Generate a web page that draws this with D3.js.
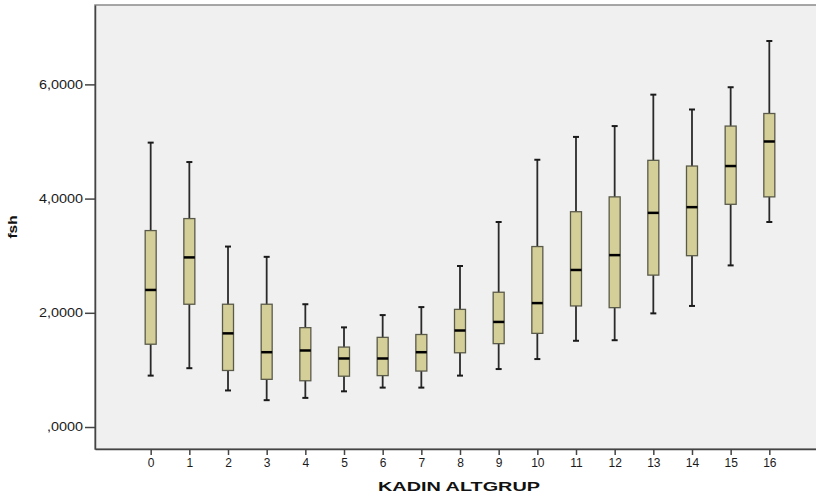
<!DOCTYPE html>
<html>
<head>
<meta charset="utf-8">
<script src="https://cdn.jsdelivr.net/npm/d3@7"></script>
<style>
  body { margin: 0; background: #fff; }
  text { font-family: "Liberation Sans", Arial, sans-serif; }
</style>
</head>
<body>
<div id="wrapper"></div>
<script>
// categories (KADIN ALTGRUP) and box stats of fsh
const categories = ["0","1","2","3","4","5","6","7","8","9","10","11","12","13","14","15","16"]
const whiskerLow  = [0.90, 1.03, 0.64, 0.47, 0.51, 0.625, 0.69, 0.69, 0.90, 1.015, 1.19, 1.51, 1.52, 1.99, 2.12, 2.83, 3.59]
const q1Values    = [1.45, 2.15, 0.99, 0.835, 0.81, 0.89, 0.90, 0.98, 1.30, 1.46, 1.64, 2.12, 2.09, 2.66, 3.00, 3.90, 4.03]
const medianVals  = [2.40, 2.97, 1.64, 1.31, 1.34, 1.20, 1.20, 1.31, 1.69, 1.84, 2.17, 2.75, 3.01, 3.75, 3.85, 4.57, 5.00]
const q3Values    = [3.44, 3.65, 2.15, 2.15, 1.74, 1.40, 1.57, 1.62, 2.06, 2.36, 3.16, 3.77, 4.03, 4.67, 4.57, 5.27, 5.49]
const whiskerHigh = [4.98, 4.64, 3.16, 2.98, 2.15, 1.745, 1.96, 2.10, 2.82, 3.59, 4.68, 5.08, 5.27, 5.82, 5.56, 5.95, 6.76]

const yTicks = [0, 2, 4, 6]
const yTickLabels = [",0000", "2,0000", "4,0000", "6,0000"]

const xAxisLabelText = "KADIN ALTGRUP"
const yAxisLabelText = "fsh"

const dataset = categories.map((c, i) => ({
    cat: c,
    lo: whiskerLow[i],
    q1: q1Values[i],
    med: medianVals[i],
    q3: q3Values[i],
    hi: whiskerHigh[i],
}))

/* chart dimensions */
let dimensions = {
    width: 816,
    height: 497,
    margin: { top: 5, right: -9, bottom: 48, left: 95 },
}
dimensions.boundedWidth = dimensions.width - dimensions.margin.left - dimensions.margin.right
dimensions.boundedHeight = dimensions.height - dimensions.margin.top - dimensions.margin.bottom

const wrapper = d3.select("#wrapper")
    .append("svg")
    .attr("width", dimensions.width)
    .attr("height", dimensions.height)

const bounds = wrapper.append("g")
    .attr("transform", `translate(${dimensions.margin.left},${dimensions.margin.top})`)

/* scales */
const xScale = d3.scalePoint()
    .domain(categories)
    .range([0, dimensions.boundedWidth])
    .padding(1.44)

const yScale = d3.scaleLinear()
    .domain([-0.385, 7.39])
    .range([dimensions.boundedHeight, 0])

/* plot background */
bounds.append("rect")
    .attr("width", dimensions.boundedWidth)
    .attr("height", dimensions.boundedHeight)
    .attr("fill", "#f0f0f0")
    .attr("stroke", "#8a8a8a")
    .attr("stroke-width", 1.5)

/* boxes */
const boxWidth = 11
const capWidth = 6
const groups = bounds.selectAll(".box")
    .data(dataset)
    .enter().append("g")
    .attr("class", "box")
    .attr("transform", d => `translate(${xScale(d.cat)},0)`)

groups.append("line")
    .attr("x1", 0).attr("x2", 0)
    .attr("y1", d => yScale(d.lo))
    .attr("y2", d => yScale(d.hi))
    .attr("stroke", "#2a2a2a")
    .attr("stroke-width", 1.8)

groups.selectAll(".cap")
    .data(d => [d.lo, d.hi])
    .enter().append("line")
    .attr("class", "cap")
    .attr("x1", -capWidth / 2).attr("x2", capWidth / 2)
    .attr("y1", v => yScale(v))
    .attr("y2", v => yScale(v))
    .attr("stroke", "#1a1a1a")
    .attr("stroke-width", 2)

groups.append("rect")
    .attr("x", -boxWidth / 2)
    .attr("width", boxWidth)
    .attr("y", d => yScale(d.q3))
    .attr("height", d => yScale(d.q1) - yScale(d.q3))
    .attr("fill", "#d4cf98")
    .attr("stroke", "#5a5a4a")
    .attr("stroke-width", 1.3)

groups.append("line")
    .attr("x1", -boxWidth / 2).attr("x2", boxWidth / 2)
    .attr("y1", d => yScale(d.med))
    .attr("y2", d => yScale(d.med))
    .attr("stroke", "#000")
    .attr("stroke-width", 2.5)

/* axes */
const xAxisGenerator = d3.axisBottom(xScale)
    .tickSize(6)
    .tickSizeOuter(0)
    .tickPadding(3)

const xAxis = bounds.append("g")
    .attr("transform", `translate(0,${dimensions.boundedHeight})`)
    .call(xAxisGenerator)
xAxis.select(".domain").attr("stroke", "#444").attr("stroke-width", 1.5)
xAxis.selectAll(".tick line").attr("stroke", "#444").attr("stroke-width", 1.5)
xAxis.selectAll("text")
    .style("font-size", "12px")
    .attr("fill", "#1a1a1a")
    .attr("font-family", "Liberation Sans, Arial, sans-serif")

const yAxisGenerator = d3.axisLeft(yScale)
    .tickValues(yTicks)
    .tickFormat((d, i) => yTickLabels[i])
    .tickSize(10)
    .tickSizeOuter(0)
    .tickPadding(2)

const yAxis = bounds.append("g")
    .call(yAxisGenerator)
yAxis.select(".domain").attr("stroke", "#444").attr("stroke-width", 1.5)
yAxis.selectAll(".tick line").attr("stroke", "#444").attr("stroke-width", 1.5)
yAxis.selectAll("text")
    .style("font-size", "12px")
    .attr("fill", "#1a1a1a")
    .attr("font-family", "Liberation Sans, Arial, sans-serif")
    .each(function () {
        const len = this.getComputedTextLength()
        d3.select(this)
            .attr("textLength", len * 1.2)
            .attr("lengthAdjust", "spacingAndGlyphs")
    })

/* axis labels */
wrapper.append("text")
    .attr("x", 459)
    .attr("y", 491)
    .attr("text-anchor", "middle")
    .attr("font-weight", "bold")
    .attr("fill", "#111")
    .style("font-size", "12px")
    .attr("textLength", 162)
    .attr("lengthAdjust", "spacingAndGlyphs")
    .text(xAxisLabelText)

wrapper.append("text")
    .attr("transform", "translate(17,227) rotate(-90)")
    .attr("text-anchor", "middle")
    .attr("font-weight", "bold")
    .attr("fill", "#111")
    .style("font-size", "13px")
    .attr("textLength", 23)
    .attr("lengthAdjust", "spacingAndGlyphs")
    .text(yAxisLabelText)
</script>
</body>
</html>
